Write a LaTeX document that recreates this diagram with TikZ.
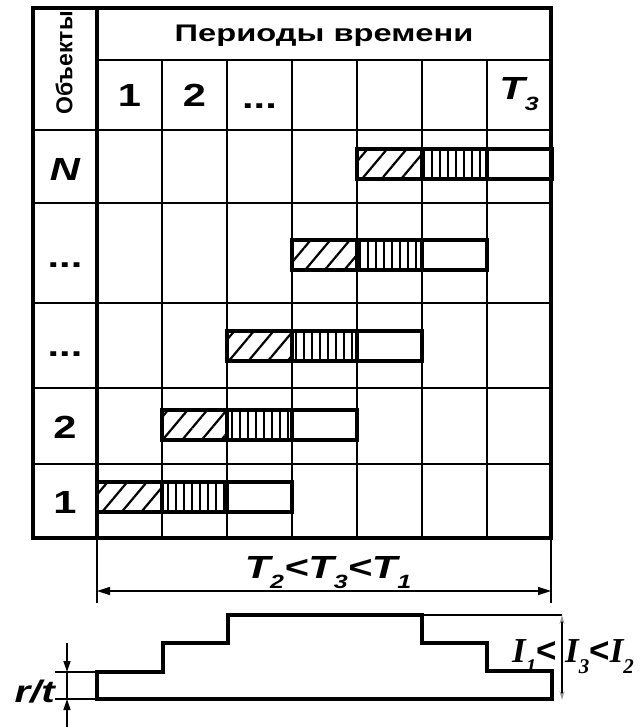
\documentclass[tikz,border=0pt]{standalone}
\usepackage{graphicx}
\usepackage{fontspec}
\newfontfamily\gridfont[FakeStretch=1.3]{Liberation Sans}
\newfontfamily\headfont[FakeStretch=1.36]{Liberation Sans}
\newfontfamily\sidefont{Liberation Sans}
\newfontfamily\ifont{Liberation Serif}
\usetikzlibrary{arrows.meta, positioning, patterns.meta}
\newcommand\lowidx[1]{\raisebox{-0.34em}{\scalebox{0.6}{#1}}}
\newcommand\lessgt{{\sidefont\bfseries\upshape <}}
\tikzset{
  >={Triangle[length=13pt, width=8pt]},
  grid/.style={line width=2.6pt, line cap=rect},
  frame/.style={line width=3.6pt},
  cell/.style={draw, line width=4.4pt, minimum width=64.9pt, minimum height=30pt,
    inner sep=0pt, outer sep=0pt},
  hatch/.style={cell, pattern={Lines[angle=50, distance=15pt, line width=2.2pt]}},
  stripes/.style={cell, pattern={Lines[angle=90, distance=8pt, line width=2.4pt]}},
  blank/.style={cell},
  stair/.style={line width=4.8pt, line join=miter},
  dim/.style={line width=1.4pt},
  lbl/.style={font=\gridfont\bfseries\fontsize{32}{32}\selectfont, inner sep=0pt},
  head/.style={font=\headfont\bfseries\fontsize{24}{24}\selectfont, inner sep=0pt},
  side/.style={font=\sidefont\bfseries\fontsize{23}{24}\selectfont, inner sep=0pt},
  ilbl/.style={font=\ifont\bfseries\itshape\fontsize{35}{35}\selectfont, inner sep=0pt},
}

\begin{document}
\begin{tikzpicture}[x=1pt, y=-1pt]
  \useasboundingbox (0,0) rectangle (643,727);

  % table
  \draw[frame] (33,8) rectangle (551,538);
  \draw[frame] (97,8) -- (97,538);
  \draw[grid] (97,60) -- (551,60);
  \draw[grid] (33,130) -- (551,130);
  \draw[grid] (33,203) -- (551,203);
  \draw[grid] (33,303) -- (551,303);
  \draw[grid] (33,388) -- (551,388);
  \draw[grid] (33,464) -- (551,464);
  \draw[grid] (162,60) -- (162,538);
  \draw[grid] (227,60) -- (227,538);
  \draw[grid] (292,60) -- (292,538);
  \draw[grid] (357,60) -- (357,538);
  \draw[grid] (422,60) -- (422,538);
  \draw[grid] (487,60) -- (487,538);

  \node[side, rotate=90] (objects) at (64,63) {Объекты};
  \node[head, anchor=base] (periods) at (324,42) {Периоды времени};

  \node[lbl, anchor=base] (p1) at (129.5,107) {1};
  \node[lbl, anchor=base] (p2) at (194.5,107) {2};
  \node[lbl, anchor=base] (pdots) at (259.5,109) {...};
  \node[lbl, anchor=base] (pT) at (519,100) {\itshape T\lowidx{3}};

  \node[lbl, anchor=base] (oN) at (65,181) {\itshape N};
  \node[lbl, anchor=base] (odots4) at (65,267) {...};
  \node[lbl, anchor=base] (odots3) at (65,356) {...};
  \node[lbl, anchor=base] (o2) at (65,438) {2};
  \node[lbl, anchor=base] (o1) at (65,513) {1};

  % bars
  \node[hatch, anchor=west] (h1) at (97,497) {};
  \node[stripes, right=0pt of h1] (v1) {};
  \node[blank, right=0pt of v1] (e1) {};
  \node[hatch, anchor=west] (h2) at (162,425) {};
  \node[stripes, right=0pt of h2] (v2) {};
  \node[blank, right=0pt of v2] (e2) {};
  \node[hatch, anchor=west] (h3) at (227,346) {};
  \node[stripes, right=0pt of h3] (v3) {};
  \node[blank, right=0pt of v3] (e3) {};
  \node[hatch, anchor=west] (h4) at (292,255) {};
  \node[stripes, right=0pt of h4] (v4) {};
  \node[blank, right=0pt of v4] (e4) {};
  \node[hatch, anchor=west] (hN) at (357,164) {};
  \node[stripes, right=0pt of hN] (vN) {};
  \node[blank, right=0pt of vN] (eN) {};

  % period dimension
  \coordinate (tabSW) at (97,538);
  \coordinate (tabSE) at (551,538);
  \coordinate (extSW) at (97,603);
  \coordinate (extSE) at (551,603);
  \coordinate (spanL) at (97,591);
  \coordinate (spanR) at (551,591);
  \draw[dim] (tabSW) -- (extSW);
  \draw[dim] (tabSE) -- (extSE);
  \draw[dim, <->] (spanL) -- (spanR);
  \node[lbl, font=\gridfont\bfseries\itshape\fontsize{32}{32}\selectfont, anchor=base]
    (span) at (328,578) {T\lowidx{2}<T\lowidx{3}<T\lowidx{1}};

  % load profile
  \draw[stair] (97,699) -- (97,672) -- (163,672) -- (163,643) -- (228,643)
    -- (228,615) -- (422,615) -- (422,643) -- (487,643) -- (487,671)
    -- (552,671) -- (552,699) -- cycle;

  \coordinate (rtA) at (55,672);
  \coordinate (rtB) at (55,699);
  \coordinate (rtA2) at (97,672);
  \coordinate (rtB2) at (97,699);
  \coordinate (rtTop) at (67,643);
  \coordinate (rtUp) at (67,672);
  \coordinate (rtLow) at (67,699);
  \coordinate (rtBot) at (67,727);
  \draw[dim] (rtA) -- (rtA2);
  \draw[dim] (rtB) -- (rtB2);
  \draw[dim] (rtUp) -- (rtLow);
  \draw[dim, ->, >={Triangle[length=11pt, width=7pt]}] (rtTop) -- (rtUp);
  \draw[dim, ->, >={Triangle[length=11pt, width=7pt]}] (rtBot) -- (rtLow);
  \node[lbl, font=\gridfont\bfseries\itshape\fontsize{31}{31}\selectfont, anchor=base east]
    (rt) at (55,702) {r/t};

  \coordinate (iTopL) at (422,615);
  \coordinate (iTop) at (562,615);
  \coordinate (iBot) at (562,700);
  \draw[dim] (iTopL) -- (iTop);
  \draw[dim, {Stealth[length=9pt, width=5pt, color=black!40]}-{Stealth[length=9pt, width=5pt, color=black!40]}]
    (iTop) -- (iBot);
  \node[ilbl, anchor=base east] (ilow) at (557,662) {I\lowidx{1}\lessgt};
  \node[ilbl, anchor=base west] (ihigh) at (565,662) {I\lowidx{3}\lessgt I\lowidx{2}};
\end{tikzpicture}
\end{document}
